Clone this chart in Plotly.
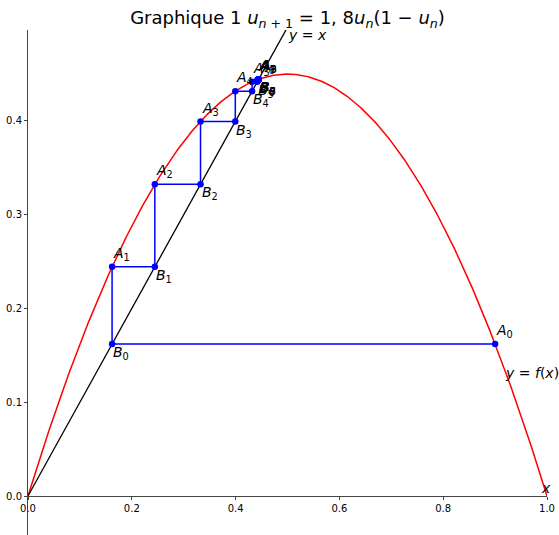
import numpy as np
import plotly.graph_objects as go

# Logistic map u_{n+1} = r * u_n * (1 - u_n)
r = 1.8
u = [0.9, 0.162, 0.2444, 0.3324, 0.3994, 0.4318, 0.4417, 0.4439, 0.4443, 0.4444, 0.4444]
n_steps = 10

x_ticks = [0.0, 0.2, 0.4, 0.6, 0.8, 1.0]
y_ticks = [0.0, 0.1, 0.2, 0.3, 0.4]
x_range = [0.0, 1.0]
y_range = [-0.0416, 0.497]

FONT = "DejaVu Sans"

fig = go.Figure()

# parabola y = f(x)
xs = np.linspace(0, 1, 400)
fig.add_trace(go.Scatter(x=xs, y=r * xs * (1 - xs), mode="lines",
                         line=dict(color="red", width=1.5), hoverinfo="skip"))
# bisector y = x
fig.add_trace(go.Scatter(x=[0, 0.55], y=[0, 0.55], mode="lines",
                         line=dict(color="black", width=1.3), hoverinfo="skip"))

# cobweb path A0 -> B0 -> A1 -> B1 -> ...
ax_pts, ay_pts, bx_pts, by_pts = [], [], [], []
px, py = [], []
for k in range(n_steps):
    ax_, ay_ = u[k], u[k + 1]
    bx_, by_ = u[k + 1], u[k + 1]
    ax_pts.append(ax_); ay_pts.append(ay_)
    bx_pts.append(bx_); by_pts.append(by_)
    px += [ax_, bx_]
    py += [ay_, by_]

fig.add_trace(go.Scatter(x=px, y=py, mode="lines",
                         line=dict(color="blue", width=1.5), hoverinfo="skip"))
fig.add_trace(go.Scatter(x=ax_pts + bx_pts, y=ay_pts + by_pts, mode="markers",
                         marker=dict(color="blue", size=6.5), hoverinfo="skip"))

annotations = []
for k in range(n_steps):
    annotations.append(dict(x=ax_pts[k], y=ay_pts[k], xref="x", yref="y",
                            text=f"<i>A</i><sub>{k}</sub>", showarrow=False,
                            xanchor="left", yanchor="bottom", yshift=2, xshift=-1,
                            font=dict(family=FONT, size=14, color="black")))
    annotations.append(dict(x=bx_pts[k], y=by_pts[k], xref="x", yref="y",
                            text=f"<i>B</i><sub>{k}</sub>", showarrow=False,
                            xanchor="left", yanchor="top", yshift=2, xshift=-1,
                            font=dict(family=FONT, size=14, color="black")))

annotations += [
    dict(x=0.498, y=0.481, xref="x", yref="y", text="<i>y</i> = <i>x</i>",
         showarrow=False, xanchor="left", yanchor="bottom",
         font=dict(family=FONT, size=14, color="black")),
    dict(x=0.916, y=0.12, xref="x", yref="y", text="<i>y</i> = <i>f</i>(<i>x</i>)",
         showarrow=False, xanchor="left", yanchor="bottom",
         font=dict(family=FONT, size=14, color="black")),
    dict(x=0.985, y=-0.002, xref="x", yref="y", text="<i>x</i>",
         showarrow=False, xanchor="left", yanchor="bottom",
         font=dict(family=FONT, size=14, color="black")),
    dict(x=-0.02, y=0.494, xref="x", yref="y", text="<i>y</i>",
         showarrow=False, xanchor="left", yanchor="bottom",
         font=dict(family=FONT, size=14, color="black")),
]

x_axis_pos = (0 - y_range[0]) / (y_range[1] - y_range[0])

fig.update_layout(
    width=559, height=535,
    margin=dict(l=28, r=12, t=30, b=0),
    paper_bgcolor="white", plot_bgcolor="white",
    showlegend=False,
    title=dict(
        text="Graphique 1 <i>u</i><sub><i>n</i> + 1</sub> = 1, 8<i>u</i><sub><i>n</i></sub>(1 − <i>u</i><sub><i>n</i></sub>)",
        x=287.5 / 559, xanchor="center", xref="container",
        y=1 - 18 / 535, yanchor="middle", yref="container",
        font=dict(family=FONT, size=18, color="black"),
    ),
    xaxis=dict(range=x_range, tickvals=x_ticks, ticktext=[f"{v:.1f}" for v in x_ticks],
               showgrid=False, zeroline=False, showline=True, linecolor="#444", linewidth=1,
               ticks="outside", ticklen=3, tickcolor="#444", tickwidth=1,
               anchor="free", position=x_axis_pos,
               tickfont=dict(family=FONT, size=10, color="black")),
    yaxis=dict(range=y_range, tickvals=y_ticks, ticktext=[f"{v:.1f}" for v in y_ticks],
               showgrid=False, zeroline=False, showline=True, linecolor="#444", linewidth=1,
               ticks="outside", ticklen=3, tickcolor="#444", tickwidth=1,
               tickfont=dict(family=FONT, size=10, color="black")),
    annotations=annotations,
)

fig.write_html("out.html")
